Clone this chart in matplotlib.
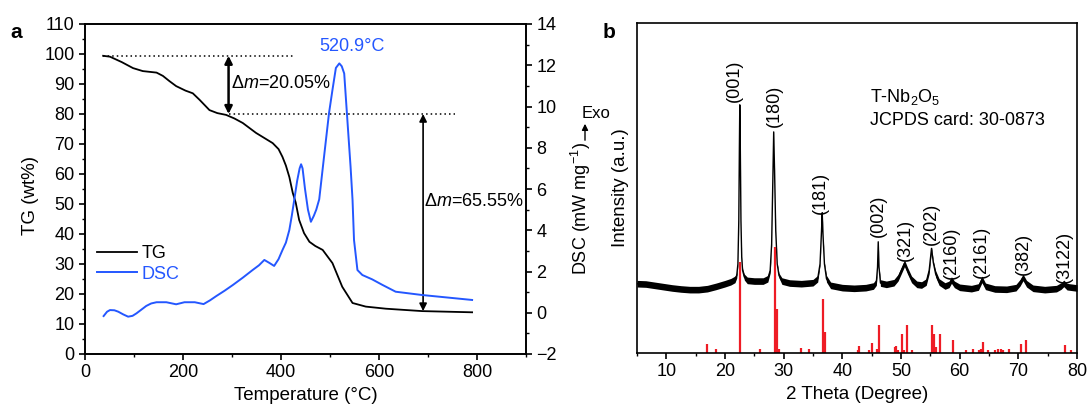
import matplotlib
matplotlib.use('Agg')
import matplotlib.pyplot as plt
from matplotlib.ticker import MultipleLocator

plt.rcParams['font.family'] = ['Liberation Sans', 'DejaVu Sans']
plt.rcParams['mathtext.fontset'] = 'custom'
plt.rcParams['mathtext.rm'] = 'Liberation Sans'
plt.rcParams['mathtext.it'] = 'Liberation Sans:italic'
plt.rcParams['font.size'] = 13
plt.rcParams['axes.linewidth'] = 1.2

# ---- panel a: TG / DSC ----
tg_temp = [37, 51, 75, 98, 118, 146, 159, 172, 186, 205, 220, 234, 254, 270, 288, 305, 322,
           349, 370, 383, 395, 403, 410, 417, 424, 430, 437, 447, 458, 470, 485, 505, 525,
           546, 573, 614, 688, 790]
tg_val = [99.4, 99.1, 97.3, 95.3, 94.3, 93.8, 92.7, 91.0, 89.3, 87.8, 86.9, 84.7, 81.3, 80.3,
          79.7, 78.5, 77.0, 73.7, 71.6, 70.3, 68.3, 65.7, 62.8, 59.0, 53.7, 50.5, 44.7, 40.3,
          37.4, 36.0, 34.7, 30.3, 22.4, 17.0, 15.8, 15.1, 14.3, 13.9]

dsc_temp = [38, 45, 51, 60, 68, 78, 88, 97, 105, 115, 125, 135, 146, 166, 186, 203, 224, 242,
            255, 268, 285, 302, 322, 342, 355, 366, 376, 386, 395, 403, 410, 417, 422, 427,
            433, 438, 441, 444, 449, 455, 461, 467, 472, 478, 488, 498, 505, 512, 519, 524,
            529, 535, 542, 546, 549, 556, 566, 586, 607, 634, 661, 688, 722, 756, 790]
dsc_val = [-0.16, 0.05, 0.13, 0.12, 0.05, -0.08, -0.19, -0.15, -0.03, 0.15, 0.33, 0.45, 0.51,
           0.51, 0.41, 0.51, 0.51, 0.42, 0.6, 0.81, 1.07, 1.35, 1.7, 2.07, 2.3, 2.56, 2.42,
           2.27, 2.6, 3.04, 3.4, 4.01, 4.7, 5.47, 6.4, 7.0, 7.2, 7.0, 6.0, 5.0, 4.41, 4.7, 5.0,
           5.5, 7.6, 9.68, 10.8, 11.87, 12.09, 11.95, 11.6, 9.5, 7.07, 5.47, 3.53, 2.07, 1.83,
           1.62, 1.35, 1.02, 0.94, 0.86, 0.78, 0.70, 0.62]

# ---- panel b: XRD ----
xrd_theta = [5.0, 6.5, 8.0, 9.5, 11.0, 12.5, 14.0, 15.5, 17.0, 18.5, 20.0, 21.0, 21.7, 22.0,
             22.2, 22.35, 22.45, 22.52, 22.6, 22.72, 22.85, 23.0, 23.3, 23.8, 25.0, 26.5, 27.3,
             27.7, 27.95, 28.15, 28.3, 28.45, 28.65, 28.9, 29.2, 29.7, 31.0, 33.0, 35.0, 35.8,
             36.2, 36.45, 36.57, 36.7, 36.95, 37.3, 38.0, 40.0, 42.0, 44.0, 45.3, 45.8, 46.0,
             46.12, 46.25, 46.5, 47.5, 48.8, 49.5, 50.1, 50.6, 51.1, 51.8, 52.7, 53.5, 54.3,
             54.8, 55.2, 55.5, 55.9, 56.5, 57.5, 58.2, 58.6, 59.1, 60.0, 62.0, 63.2, 63.8, 64.4,
             66.0, 68.0, 69.6, 70.3, 70.8, 71.4, 72.5, 74.5, 76.5, 77.3, 77.75, 78.3, 80.0]
xrd_int = [21.0, 20.9, 20.5, 20.1, 19.7, 19.4, 19.2, 19.2, 19.5, 20.2, 21.0, 21.6, 22.3, 23.5,
           27.0, 40.0, 62.0, 75.2, 64.0, 40.0, 29.0, 25.0, 23.0, 22.0, 21.8, 21.8, 22.5, 25.0,
           33.0, 52.0, 67.0, 55.0, 37.0, 27.0, 23.5, 21.8, 21.2, 21.0, 21.3, 22.5, 27.0, 37.0,
           42.5, 36.0, 27.0, 22.5, 20.5, 19.8, 19.6, 19.8, 20.3, 21.5, 26.0, 33.7, 26.0, 21.2,
           20.8, 21.3, 22.8, 25.2, 27.2, 25.0, 22.3, 20.8, 20.6, 21.5, 25.0, 31.7, 27.5, 24.0,
           21.5, 20.3, 20.8, 22.1, 20.8, 19.9, 19.5, 20.0, 22.3, 20.2, 19.4, 19.3, 19.8, 21.3,
           22.9, 21.0, 19.6, 19.2, 19.5, 20.3, 21.1, 20.1, 19.7]
# half height of the noisy band of the trace
xrd_noise = [1.0, 1.0, 1.0, 1.0, 1.0, 1.0, 1.0, 1.0, 1.0, 1.0, 1.0, 1.0, 1.0, 0.8,
             0.3, 0.3, 0.3, 0.3, 0.3, 0.3, 0.3, 0.6, 0.9, 1.0, 1.0, 1.0, 1.0, 0.8,
             0.3, 0.3, 0.3, 0.3, 0.3, 0.3, 0.7, 1.0, 1.0, 1.0, 1.0, 1.0, 0.4, 0.4,
             0.4, 0.4, 0.4, 1.0, 1.0, 1.0, 1.0, 1.0, 1.0, 1.0, 0.3, 0.3, 0.3, 1.0,
             1.0, 1.0, 1.0, 1.0, 1.0, 1.0, 1.0, 1.0, 1.0, 1.0, 1.0, 0.5, 0.5, 1.0,
             1.0, 1.0, 1.0, 1.0, 1.0, 1.0, 1.0, 1.0, 1.0, 1.0, 1.0, 1.0, 1.0, 1.0,
             1.0, 1.0, 1.0, 1.0, 1.0, 1.0, 1.0, 1.0, 1.0]

stick_theta = [17.0, 18.4, 22.6, 25.9, 28.5, 28.9, 29.2, 32.9, 34.4, 36.7, 37.0, 42.6, 42.9,
               44.6, 45.0, 45.9, 46.2, 48.9, 49.2, 49.5, 50.2, 50.5, 51.1, 51.9, 55.2, 55.45,
               55.7, 56.0, 56.6, 58.9, 61.0, 62.3, 63.3, 63.6, 64.0, 64.9, 66.1, 66.5, 67.0,
               67.4, 68.4, 70.5, 71.3, 77.9, 78.9]
stick_height = [2.8, 1.1, 27.7, 1.1, 32.2, 13.3, 1.1, 1.6, 1.3, 16.4, 6.5, 1.0, 2.2, 1.0, 3.1,
                1.2, 8.4, 1.8, 2.0, 1.0, 5.7, 1.0, 8.4, 1.0, 8.4, 4.3, 5.9, 1.8, 5.7, 4.0, 1.0,
                1.2, 1.0, 1.2, 3.3, 1.0, 1.0, 1.2, 1.2, 1.0, 1.2, 2.6, 3.8, 2.5, 1.0]

hkl_labels = ['(001)', '(180)', '(181)', '(002)', '(321)', '(202)', '(2160)', '(2161)',
              '(382)', '(3122)']
hkl_theta = [21.6, 28.4, 36.2, 46.2, 50.8, 55.2, 58.55, 63.7, 70.8, 77.8]
hkl_y = [82.4, 75.0, 48.5, 41.5, 34.2, 39.0, 30.5, 30.5, 30.0, 29.0]

blue = '#2457ff'
red = '#ee1c25'

fig = plt.figure(figsize=(10.88, 4.08), dpi=100)
ax1 = fig.add_axes([85/1088, 54/408, 441/1088, 330/408])
ax2 = ax1.twinx()
ax3 = fig.add_axes([637/1088, 55/408, 440/1088, 330/408])

l1, = ax1.plot(tg_temp, tg_val, color='black', lw=1.3, label='TG')
l2, = ax2.plot(dsc_temp, dsc_val, color=blue, lw=1.4, label='DSC')

ax1.set_xlim(0, 900)
ax1.set_ylim(0, 110)
ax2.set_ylim(-2, 14)
ax1.xaxis.set_major_locator(MultipleLocator(200))
ax1.xaxis.set_minor_locator(MultipleLocator(100))
ax1.yaxis.set_major_locator(MultipleLocator(10))
ax1.yaxis.set_minor_locator(MultipleLocator(5))
ax2.yaxis.set_major_locator(MultipleLocator(2))
ax2.yaxis.set_minor_locator(MultipleLocator(1))
for ax in (ax1, ax2, ax3):
    ax.tick_params(which='major', length=4, width=1.2, direction='out', labelsize=13)
    ax.tick_params(which='minor', length=2.3, width=1.0, direction='out')
ax1.set_xlabel('Temperature (°C)', fontsize=13.5, labelpad=4)
ax1.set_ylabel('TG (wt%)', fontsize=13.5)
ax1.yaxis.set_label_coords(-0.105, 0.48)
ax2.set_ylabel('DSC (mW mg$^{-1}$)', fontsize=13)
ax2.yaxis.set_label_coords(1.097, 0.44)

# mass loss markers
ax1.plot([37, 427], [99.4, 99.4], color='black', ls=(0, (1, 2)), lw=1.1)
ax1.plot([293, 755], [80, 80], color='black', ls=(0, (1, 2)), lw=1.1)
ax1.annotate('', xy=(293, 80), xytext=(293, 99.4),
             arrowprops=dict(arrowstyle='<|-|>', color='black', lw=1.8,
                             mutation_scale=11, shrinkA=0, shrinkB=0))
ax1.annotate('', xy=(690, 14.3), xytext=(690, 80),
             arrowprops=dict(arrowstyle='<|-|>', color='black', lw=1.2,
                             mutation_scale=11, shrinkA=0, shrinkB=0))
ax1.text(297, 90.3, r'$\Delta$$m$=20.05%', fontsize=13, va='center', ha='left')
ax1.text(692, 50.8, r'$\Delta$$m$=65.55%', fontsize=13, va='center', ha='left')
ax2.text(545, 12.9, '520.9°C', color=blue, fontsize=13, ha='center', va='center')

ax1.legend([l1, l2], ['TG', 'DSC'], loc='upper left', bbox_to_anchor=(0.028, 0.33),
           frameon=False, handlelength=2.2, handletextpad=0.25, labelspacing=0.2,
           borderpad=0, borderaxespad=0, fontsize=13)
leg = ax1.get_legend()
leg.get_texts()[1].set_color(blue)

# Exo arrow next to the DSC label
fig.text(596/1088, 1 - 113/408, 'Exo', fontsize=12, ha='center', va='center')
fig.add_artist(matplotlib.patches.FancyArrowPatch(
    (585/1088, 1 - 143/408), (585/1088, 1 - 121/408), transform=fig.transFigure,
    arrowstyle='-|>', mutation_scale=9, lw=1.0, color='black'))

# XRD panel
lo = [v - n for v, n in zip(xrd_int, xrd_noise)]
hi = [v + n for v, n in zip(xrd_int, xrd_noise)]
ax3.fill_between(xrd_theta, lo, hi, color='black', lw=0)
ax3.plot(xrd_theta, xrd_int, color='black', lw=1.0)
ax3.vlines(stick_theta, 0, stick_height, color=red, lw=1.6)
for lab, t, y in zip(hkl_labels, hkl_theta, hkl_y):
    ax3.text(t, y, lab, rotation=90, ha='center', va='center', fontsize=13)
ax3.set_xlim(5, 80)
ax3.set_ylim(0, 100)
ax3.set_yticks([])
ax3.xaxis.set_major_locator(MultipleLocator(10))
ax3.xaxis.set_minor_locator(MultipleLocator(5))
ax3.set_xlabel('2 Theta (Degree)', fontsize=13.5, labelpad=4)
ax3.set_ylabel('Intensity (a.u.)', fontsize=13.5)
ax3.yaxis.set_label_coords(-0.018, 0.5)
ax3.text(0.53, 0.776, 'T-Nb$_2$O$_5$', transform=ax3.transAxes, fontsize=13, va='center')
ax3.text(0.53, 0.706, 'JCPDS card: 30-0873', transform=ax3.transAxes, fontsize=13,
         va='center')

fig.text(10/1088, 1 - 32/408, 'a', fontsize=15, weight='bold', va='center')
fig.text(603/1088, 1 - 32/408, 'b', fontsize=15, weight='bold', va='center')

fig.savefig('out.png', dpi=100)
